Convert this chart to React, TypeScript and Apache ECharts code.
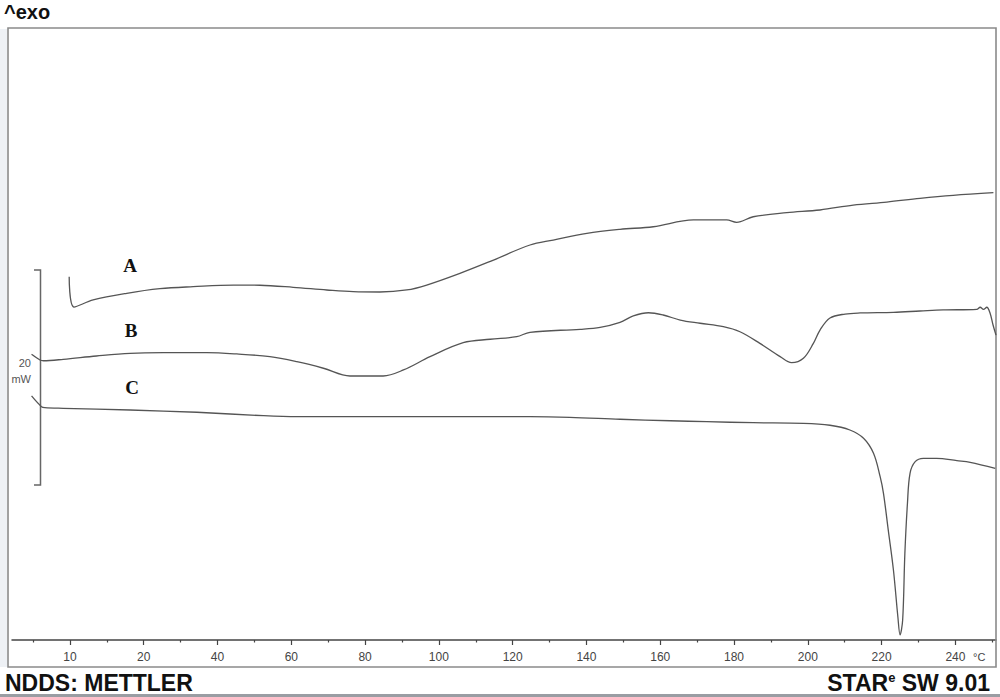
import React, { useEffect, useRef } from "react";
import * as echarts from "echarts";

// Temperature positions (axis units) and heat flow (mW)
const tempA = [-0.2, 1.1, 6.3, 15.4, 24.4, 33.4, 44.3, 51.5, 60.5, 69.6, 76.8, 84.0, 91.3, 96.7, 105.7, 114.8, 124.7, 131.0, 140.1, 149.1, 158.1, 169.0, 178.0, 180.7, 185.2, 194.3, 203.3, 212.3, 221.4, 230.4, 239.4, 250.3];
const heatA = [33.84, 31.01, 31.67, 32.29, 32.72, 32.91, 33.06, 33.04, 32.85, 32.6, 32.44, 32.41, 32.6, 33.06, 34.15, 35.39, 36.79, 37.25, 37.88, 38.25, 38.49, 39.12, 39.12, 38.9, 39.42, 39.8, 40.05, 40.51, 40.79, 41.14, 41.42, 41.66];

const tempB = [-10.4, -8.1, -7.2, -1.8, 7.2, 16.3, 25.3, 37.1, 45.2, 54.2, 61.5, 68.7, 75.9, 84.9, 90.4, 97.6, 106.6, 113.9, 121.1, 124.7, 138.3, 143.7, 149.1, 152.7, 156.8, 160.8, 165.4, 170.8, 177.1, 181.6, 187.0, 192.5, 195.6, 198.8, 201.5, 203.3, 206.0, 210.1, 214.2, 223.2, 230.4, 236.7, 245.8, 246.7, 247.6, 248.5, 249.4, 250.2, 251.0];
const heatB = [26.61, 26.08, 26.01, 26.14, 26.45, 26.7, 26.76, 26.76, 26.64, 26.39, 25.92, 25.31, 24.59, 24.59, 25.15, 26.39, 27.69, 28.01, 28.25, 28.66, 28.94, 29.12, 29.59, 30.18, 30.48, 30.27, 29.8, 29.5, 29.18, 28.71, 27.63, 26.39, 25.83, 26.24, 27.63, 28.87, 29.99, 30.36, 30.46, 30.52, 30.64, 30.74, 30.8, 30.99, 30.8, 30.99, 30.43, 29.34, 28.4];

const tempC = [-10.4, -7.7, -6.8, -1.8, 16.3, 34.4, 52.4, 61.5, 88.6, 124.7, 135.5, 149.1, 162.7, 172.6, 185.2, 198.8, 206.0, 211.4, 215.1, 217.8, 219.6, 220.5, 221.8, 223.2, 224.4, 225.0, 225.7, 226.3, 227.0, 227.7, 229.1, 231.3, 234.9, 240.4, 244.0, 250.8];
const heatC = [22.73, 21.73, 21.64, 21.58, 21.42, 21.21, 20.89, 20.8, 20.8, 20.8, 20.74, 20.56, 20.42, 20.33, 20.24, 20.18, 20.0, 19.56, 18.79, 17.39, 15.21, 13.66, 10.24, 6.52, 2.17, 0.47, 1.86, 8.07, 12.73, 15.53, 16.61, 16.92, 16.92, 16.7, 16.55, 15.99];

const majorTickValues = [0, 20, 40, 60, 80, 100, 120, 140, 160, 180, 200, 220, 240];
const majorTickLabels = ["10", "20", "40", "60", "80", "100", "120", "140", "160", "180", "200", "220", "240"];
const minorTickValues = [-10, 10, 30, 50, 70, 90, 110, 130, 150, 170, 190, 210, 230, 250];

const curveNames = ["A", "B", "C"];

const X_MIN = -15.7;
const X_MAX = 251;
const Y_MIN = 0;
const Y_MAX = 57;

function zip(xs: number[], ys: number[]) {
  return xs.map((x, i) => [x, ys[i]]);
}

export default function App() {
  const ref = useRef<HTMLDivElement>(null);
  useEffect(() => {
    document.body.style.margin = "0";
    const chart = echarts.init(ref.current!, null, { renderer: "svg" });
    const lineStyle = { color: "#555", width: 1.3 };
    const mkSeries = (name: string, data: number[][]) => ({
      name,
      type: "line",
      xAxisIndex: 0,
      yAxisIndex: 0,
      data,
      showSymbol: false,
      symbol: "none",
      smooth: 0.35,
      lineStyle,
      z: 5,
    });
    chart.setOption({
      animation: false,
      backgroundColor: "#ffffff",
      grid: { left: 12, right: 4, top: 28, bottom: 57 },
      xAxis: [
        {
          type: "value",
          min: X_MIN,
          max: X_MAX,
          position: "bottom",
          splitLine: { show: false },
          axisLine: { show: true, lineStyle: { color: "#444", width: 1.5 } },
          axisTick: {
            show: true,
            customValues: majorTickValues,
            length: 5,
            lineStyle: { color: "#444", width: 1.2 },
          },
          axisLabel: {
            show: true,
            customValues: majorTickValues,
            margin: 11,
            color: "#444",
            fontSize: 12,
            fontFamily: "Liberation Sans, Arial, sans-serif",
            formatter: (v: number) => {
              const i = majorTickValues.indexOf(v);
              return i >= 0 ? majorTickLabels[i] : "";
            },
          },
        },
        {
          type: "value",
          min: X_MIN,
          max: X_MAX,
          position: "bottom",
          offset: 0,
          splitLine: { show: false },
          axisLine: { show: false },
          axisTick: {
            show: true,
            customValues: minorTickValues,
            length: 2.5,
            lineStyle: { color: "#444", width: 1.2 },
          },
          axisLabel: { show: false },
        },
      ],
      yAxis: {
        type: "value",
        min: Y_MIN,
        max: Y_MAX,
        show: false,
        splitLine: { show: false },
      },
      series: [
        mkSeries("A", zip(tempA, heatA)),
        mkSeries("B", zip(tempB, heatB)),
        mkSeries("C", zip(tempC, heatC)),
      ],
      graphic: [
        { type: "rect", shape: { x: 0, y: 29, width: 7, height: 638 }, style: { fill: "#eef1f5" }, z: 0 },
        { type: "rect", shape: { x: 0, y: 694, width: 1000, height: 3 }, style: { fill: "#9a9da3" }, z: 0 },
        {
          type: "rect",
          shape: { x: 8, y: 28, width: 988, height: 639 },
          style: { fill: "none", stroke: "#8a8a8a", lineWidth: 1.6 },
          z: 1,
        },
        {
          type: "text",
          x: 4,
          y: 2,
          style: { text: "^exo", font: "bold 20px 'Liberation Sans', Arial, sans-serif", fill: "#111" },
        },
        {
          type: "text",
          x: 5,
          y: 671,
          style: { text: "NDDS: METTLER", font: "bold 23px 'Liberation Sans', Arial, sans-serif", fill: "#111" },
        },
        {
          type: "text",
          x: 990,
          y: 671,
          style: {
            text: "{m|STAR}{s|e}{m| SW 9.01}",
            align: "right",
            rich: {
              m: { font: "bold 23px 'Liberation Sans', Arial, sans-serif", fill: "#111", color: "#111" },
              s: { font: "bold 13px 'Liberation Sans', Arial, sans-serif", fill: "#111", color: "#111", verticalAlign: "top", padding: [0, 0, 8, 0] },
            },
          },
        },
        {
          type: "text",
          x: 973,
          y: 651,
          style: { text: "°C", font: "11px 'Liberation Sans', Arial, sans-serif", fill: "#444" },
        },
        {
          type: "polyline",
          shape: { points: [[34, 270], [40.5, 270], [40.5, 485], [34, 485]] },
          style: { stroke: "#666", lineWidth: 1.5, fill: "none" },
          z: 2,
        },
        {
          type: "text",
          x: 31,
          y: 357,
          style: { text: "20", align: "right", font: "11px 'Liberation Sans', Arial, sans-serif", fill: "#555" },
        },
        {
          type: "text",
          x: 31,
          y: 373,
          style: { text: "mW", align: "right", font: "11px 'Liberation Sans', Arial, sans-serif", fill: "#555" },
        },
        {
          type: "text",
          x: 130,
          y: 265,
          style: { text: curveNames[0], align: "center", verticalAlign: "middle", font: "bold 19px 'Liberation Serif', 'Times New Roman', serif", fill: "#111" },
        },
        {
          type: "text",
          x: 131,
          y: 330,
          style: { text: curveNames[1], align: "center", verticalAlign: "middle", font: "bold 19px 'Liberation Serif', 'Times New Roman', serif", fill: "#111" },
        },
        {
          type: "text",
          x: 132,
          y: 387,
          style: { text: curveNames[2], align: "center", verticalAlign: "middle", font: "bold 19px 'Liberation Serif', 'Times New Roman', serif", fill: "#111" },
        },
      ],
    });
    return () => chart.dispose();
  }, []);
  return <div ref={ref} style={{ width: 1000, height: 697 }} />;
}
